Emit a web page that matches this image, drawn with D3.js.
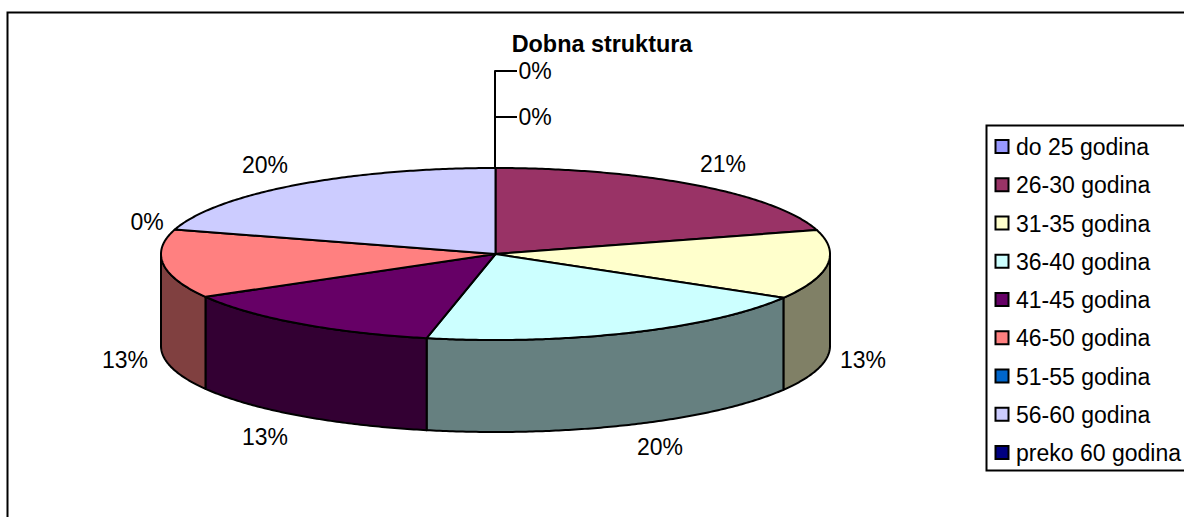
<!DOCTYPE html>
<html>
<head>
<meta charset="utf-8">
<script src="https://cdnjs.cloudflare.com/ajax/libs/d3/7.9.0/d3.min.js"></script>
<style>
html,body{margin:0;padding:0;background:#fff;overflow:hidden}
svg{display:block}
text{font-family:"Liberation Sans",Arial,sans-serif;fill:#000}
</style>
</head>
<body>
<svg id="c" width="1184" height="517"></svg>
<script>
const categories = ["do 25 godina","26-30 godina","31-35 godina","36-40 godina","41-45 godina","46-50 godina","51-55 godina","56-60 godina","preko 60 godina"];
const values = [0, 20.5, 13.0, 19.8, 13.4, 12.9, 0, 20.4, 0];
const colors = ["#9999FF","#993366","#FFFFCC","#CCFFFF","#660066","#FF8080","#0066CC","#CCCCFF","#000080"];
const chartTitle = "Dobna struktura";

// layout
const W = 1184, H = 517;
const cx = 495.5, cy = 254, rx = 334.5, ry = 86, depth = 92;
const fontSize = 23;
const titleSize = 23.4;
const strokeW = 2;
// label anchors (centre x, centre y) per category index; zero slices use leaders
const labelAnchors = [[535,71],[723,164],[863,360],[660,447],[265,437],[125,360],[147,222],[265,165],[535,117]];

const svg = d3.select("#c");
svg.append("rect").attr("x",7.5).attr("y",12.5).attr("width",W+20).attr("height",H+20)
  .attr("fill","#fff").attr("stroke","#000").attr("stroke-width",strokeW);

const pie = d3.pie().sort(null).value(d=>d).startAngle(0).endAngle(2*Math.PI);
const arcs = pie(values);
const px = a => cx + rx*Math.sin(a);
const py = a => cy - ry*Math.cos(a);
const lineStyle = s => s.attr("stroke","#000").attr("stroke-width",strokeW).attr("stroke-linejoin","round");

function ellipseArc(p, a0, a1, dy, reverse){
  const n = Math.max(2, Math.ceil(Math.abs(a1-a0)/0.01));
  for(let i=1;i<=n;i++){
    const a = reverse ? a1-(a1-a0)*i/n : a0+(a1-a0)*i/n;
    p.lineTo(px(a), py(a)+dy);
  }
}

// sides (only the front half, angles PI/2 .. 3PI/2)
const front = arcs.map((d,i)=>({i,a0:Math.max(d.startAngle,Math.PI/2),a1:Math.min(d.endAngle,3*Math.PI/2)}))
  .filter(d=>d.a1>d.a0);
svg.append("g").selectAll("path").data(front).join("path")
  .attr("d",d=>{
    const p=d3.path();
    p.moveTo(px(d.a0),py(d.a0));
    ellipseArc(p,d.a0,d.a1,0,false);
    p.lineTo(px(d.a1),py(d.a1)+depth);
    ellipseArc(p,d.a0,d.a1,depth,true);
    p.closePath();
    return p.toString();
  })
  .attr("fill",d=>{const c=d3.rgb(colors[d.i]);return d3.rgb(c.r/2,c.g/2,c.b/2).formatHex();})
  .call(lineStyle);

// top faces
svg.append("g").selectAll("path").data(arcs.filter(d=>d.endAngle>d.startAngle)).join("path")
  .attr("d",d=>{
    const p=d3.path();
    p.moveTo(cx,cy);
    p.lineTo(px(d.startAngle),py(d.startAngle));
    ellipseArc(p,d.startAngle,d.endAngle,0,false);
    p.closePath();
    return p.toString();
  })
  .attr("fill",d=>colors[d.index])
  .call(lineStyle);

// leader lines for the zero slices at the top
const leaders = [0,8];
const g = svg.append("g");
leaders.forEach(i=>{
  const y = labelAnchors[i][1];
  g.append("path").attr("d",`M${cx-0.5},${cy-ry}V${y}H${labelAnchors[i][0]-18}`)
    .attr("fill","none").call(lineStyle);
});

// value labels
svg.append("g").selectAll("text").data(values).join("text")
  .attr("x",(d,i)=>labelAnchors[i][0]).attr("y",(d,i)=>labelAnchors[i][1])
  .attr("text-anchor","middle").attr("dominant-baseline","central")
  .attr("font-size",fontSize)
  .text(d=>Math.round(d)+"%");

// title
svg.append("text").attr("x",602).attr("y",44).attr("text-anchor","middle").attr("dominant-baseline","central")
  .attr("font-size",titleSize).attr("font-weight","bold").text(chartTitle);

// legend
const legendY = d3.scalePoint().domain(categories).range([147,453]);
svg.append("rect").attr("x",986.5).attr("y",125.5).attr("width",W).attr("height",345)
  .attr("fill","#fff").attr("stroke","#000").attr("stroke-width",strokeW);
const lg = svg.append("g").selectAll("g").data(categories).join("g")
  .attr("transform",d=>`translate(0,${legendY(d)})`);
lg.append("rect").attr("x",995.5).attr("y",-7).attr("width",13).attr("height",13)
  .attr("fill",(d,i)=>colors[i]).attr("stroke","#000").attr("stroke-width",strokeW);
lg.append("text").attr("x",1016).attr("y",0).attr("dominant-baseline","central")
  .attr("font-size",fontSize).text(d=>d);
</script>
</body>
</html>
